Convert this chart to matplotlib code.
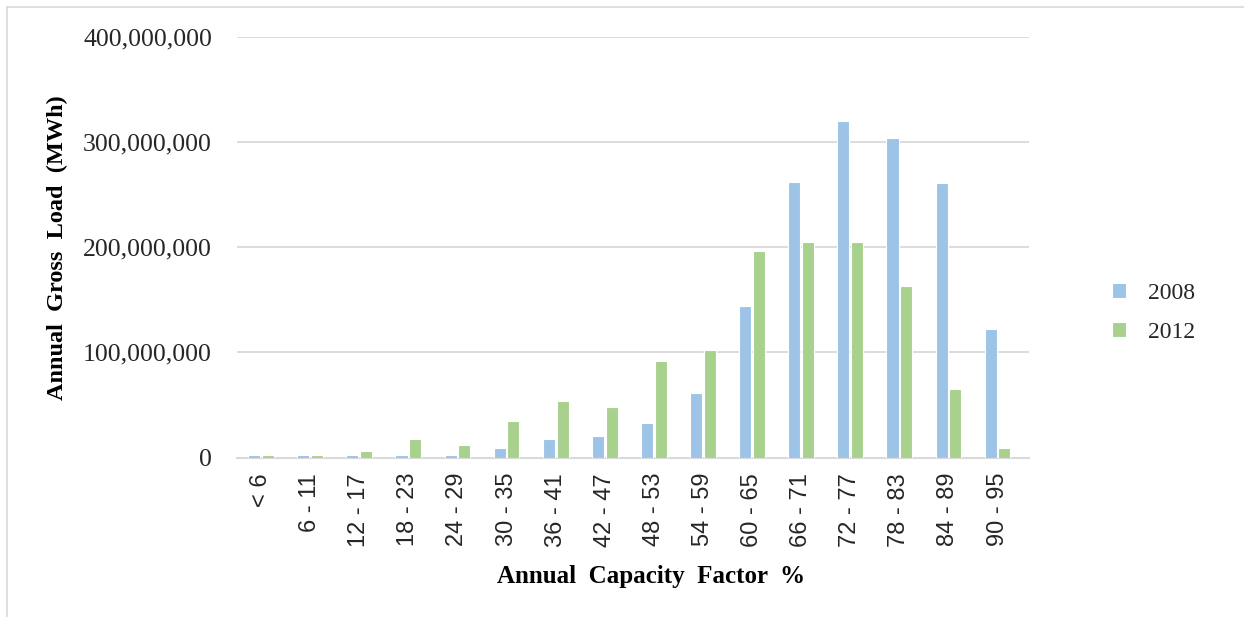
import matplotlib
matplotlib.use("Agg")
import matplotlib.pyplot as plt
import numpy as np
from matplotlib.lines import Line2D
from matplotlib.ticker import FuncFormatter

categories = ["< 6", "6 - 11", "12 - 17", "18 - 23", "24 - 29", "30 - 35", "36 - 41",
              "42 - 47", "48 - 53", "54 - 59", "60 - 65", "66 - 71", "72 - 77",
              "78 - 83", "84 - 89", "90 - 95"]
series_names = ["2008", "2012"]
values_2008 = [2.4e6, 2.4e6, 2.4e6, 2.4e6, 2.4e6, 9.5e6, 17.5e6, 21e6, 32.7e6, 61e6,
               144e6, 262e6, 320e6, 304e6, 261e6, 122e6]
values_2012 = [2.4e6, 2.4e6, 6.4e6, 17.7e6, 12e6, 34.5e6, 53.5e6, 48e6, 91.5e6, 102.6e6,
               196e6, 205e6, 205e6, 163e6, 65e6, 9.5e6]
y_ticks = [0, 100e6, 200e6, 300e6, 400e6]

c2008 = "#9DC3E6"
c2012 = "#A9D18E"
grid_c = "#D9D9D9"
text_c = "#262626"

fig = plt.figure(figsize=(12.44, 6.17), dpi=100)
ax = fig.add_axes([237 / 1244, 1 - 457.7 / 617, (1029 - 237) / 1244, (457.7 - 36.5) / 617])

x = np.arange(len(categories))
bw = 0.245
off = 0.14
ax.bar(x - off, values_2008, width=bw, color=c2008, edgecolor="white", linewidth=0.8,
       label=series_names[0], zorder=3)
ax.bar(x + off, values_2012, width=bw, color=c2012, edgecolor="white", linewidth=0.8,
       label=series_names[1], zorder=3)

ax.set_xlim(-0.49, 15.64)
ax.set_ylim(0, 400e6)
ax.set_yticks(y_ticks)
ax.yaxis.set_major_formatter(FuncFormatter(lambda v, p: f"{int(v):,}"))
ax.grid(axis="y", color=grid_c, linewidth=1.3, zorder=0)
ax.set_axisbelow(True)
for s in ["top", "right", "left"]:
    ax.spines[s].set_visible(False)
ax.spines["bottom"].set_color(grid_c)
ax.spines["bottom"].set_linewidth(1.5)

ax.set_xticks(x)
ax.set_xticklabels(categories, rotation=90, family="Liberation Sans", fontsize=17,
                   color=text_c, va="top")
ax.tick_params(axis="x", length=0, pad=11)
ax.tick_params(axis="y", length=0, pad=18)
for lab in ax.get_yticklabels():
    lab.set_family("Liberation Serif")
    lab.set_fontsize(18.5)
    lab.set_color(text_c)

fig.text(651 / 1244, 1 - 576 / 617, "Annual  Capacity  Factor  %", family="Liberation Serif",
         fontweight="bold", fontsize=18, color="black", ha="center", va="center")
fig.text(57 / 1244, 1 - 248 / 617, "Annual  Gross  Load  (MWh)", rotation=90,
         family="Liberation Serif", fontweight="bold", fontsize=17.5, color="black",
         ha="center", va="center")

leg = fig.legend(loc="center left", bbox_to_anchor=(1091 / 1244, 1 - 313 / 617),
                 frameon=False, handlelength=0.6, handleheight=0.6, handletextpad=0.9,
                 labelspacing=0.78, prop={"family": "Liberation Serif", "size": 17})
for t in leg.get_texts():
    t.set_color(text_c)

# figure frame (top and left edges visible)
fig.add_artist(Line2D([7 / 1244, 1.0], [1 - 7 / 617, 1 - 7 / 617], color=grid_c, linewidth=1.2,
                      transform=fig.transFigure))
fig.add_artist(Line2D([7 / 1244, 7 / 1244], [0.0, 1 - 7 / 617], color=grid_c, linewidth=1.2,
                      transform=fig.transFigure))

fig.savefig("out.png", dpi=100, facecolor="white")
